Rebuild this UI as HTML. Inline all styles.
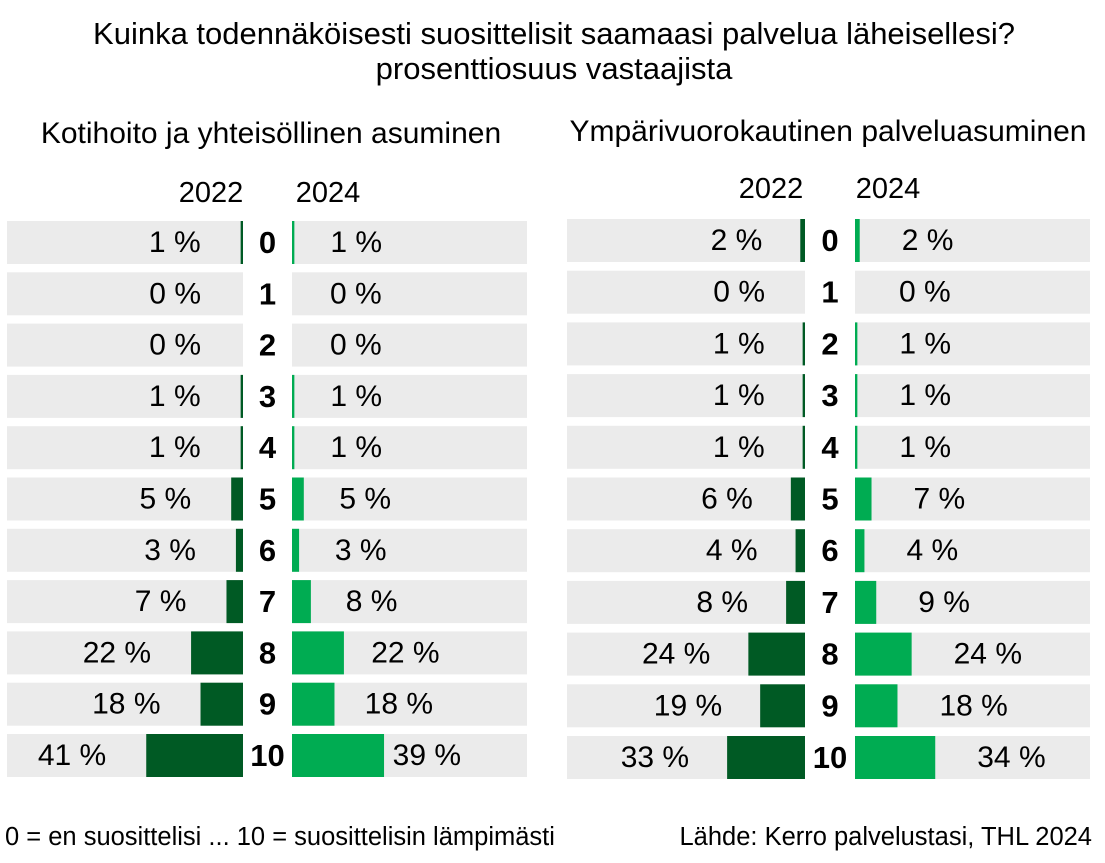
<!DOCTYPE html>
<html><head><meta charset="utf-8"><style>
body{margin:0;background:#fff;width:1105px;height:858px;overflow:hidden;font-family:"Liberation Sans",Arial,sans-serif}
</style></head><body>
<svg id="c" width="1105" height="858" xmlns="http://www.w3.org/2000/svg" font-family="Liberation Sans, Arial, sans-serif">
<text x="554" y="44" font-size="31" text-anchor="middle">Kuinka todennäköisesti suosittelisit saamaasi palvelua läheisellesi?</text>
<text x="554" y="79" font-size="31" text-anchor="middle">prosenttiosuus vastaajista</text>
<text x="271" y="143" font-size="30" text-anchor="middle">Kotihoito ja yhteisöllinen asuminen</text>
<text x="828" y="141" font-size="30" text-anchor="middle">Ympärivuorokautinen palveluasuminen</text>
<text x="211" y="202" font-size="29" text-anchor="middle">2022</text>
<text x="328" y="202" font-size="29" text-anchor="middle">2024</text>
<text x="771" y="198" font-size="29" text-anchor="middle">2022</text>
<text x="888" y="198" font-size="29" text-anchor="middle">2024</text>
<text x="5" y="845" font-size="25.5">0 = en suosittelisi ... 10 = suosittelisin lämpimästi</text>
<text x="1092" y="845" font-size="25.5" text-anchor="end">Lähde: Kerro palvelustasi, THL 2024</text>
<g id="bars"></g>
</svg>
<script>
const categories=["0","1","2","3","4","5","6","7","8","9","10"];
const left2022=[1,0,0,1,1,5,3,7,22,18,41];
const left2024=[1,0,0,1,1,5,3,8,22,18,39];
const right2022=[2,0,1,1,1,6,4,8,24,19,33];
const right2024=[2,0,1,1,1,7,4,9,24,18,34];
const NS="http://www.w3.org/2000/svg";
const g=document.getElementById('bars');
const k=2.36;
function mk(t,a){const e=document.createElementNS(NS,t);for(const n in a)e.setAttribute(n,a[n]);g.appendChild(e);return e;}
function panel(p,d22,d24,cfg){
  categories.forEach((c,i)=>{
    const y=cfg.top+i*cfg.pitch,h=43;
    let e=mk('rect',{x:cfg.l0,y:y,width:cfg.l1-cfg.l0,height:h,fill:'#ebebeb'});
    
    
    e=mk('rect',{x:cfg.r0,y:y,width:cfg.r1-cfg.r0,height:h,fill:'#ebebeb'});
    
    
    const w1=Math.max(d22[i]*k,d22[i]>0?2:0),w2=Math.max(d24[i]*k,d24[i]>0?2:0);
    e=mk('rect',{x:cfg.l1-w1,y:y,width:w1,height:h,fill:'#005a24'});
    
    
    e=mk('rect',{x:cfg.r0,y:y,width:w2,height:h,fill:'#00ac52'});
    
    
    const ty=y+31;
    e=mk('text',{x:cfg.l1-Math.max(w1,2)-cfg.g1,y:ty,'font-size':30,'text-anchor':'end'});e.textContent=d22[i]+' %';
    
    
    const g2=cfg.shrink?Math.max(6,cfg.g2-0.018*d24[i]*d24[i]):cfg.g2;
    e=mk('text',{x:cfg.r0+Math.max(w2,2)+g2,y:ty,'font-size':30});e.textContent=d24[i]+' %';
    
    
    e=mk('text',{x:(cfg.l1+cfg.r0)/2,y:ty+1,'font-size':31,'font-weight':'bold','text-anchor':'middle'});e.textContent=c;
    
    
  });
}
panel('left',left2022,left2024,{top:221,pitch:51.3,l0:7,l1:243,r0:292,r1:527,g1:40,g2:36,shrink:true});
panel('right',right2022,right2024,{top:219,pitch:51.7,l0:567,l1:805,r0:855,r1:1090,g1:38,g2:42,shrink:false});
</script>
</body></html>
